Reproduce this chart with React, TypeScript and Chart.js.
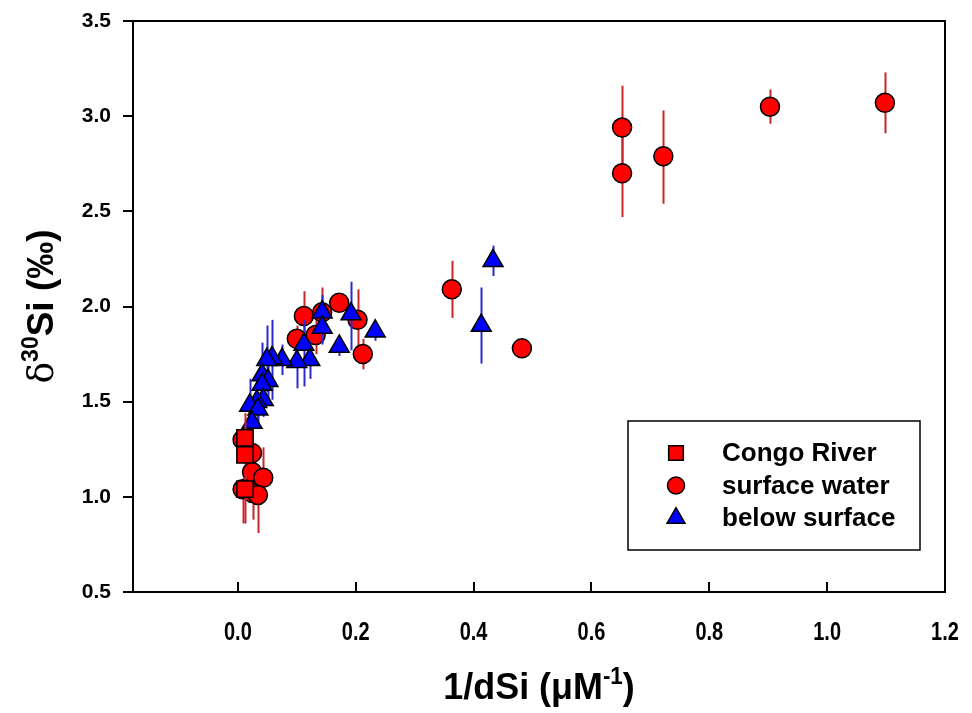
import React, { useEffect, useRef } from "react";
import { Chart, registerables } from "chart.js";

Chart.register(...registerables);

// ---------- data ----------
const seriesLabels = ["Congo River", "surface water", "below surface"];

const congoX = [0.012, 0.012, 0.012];
const congoY = [1.31, 1.22, 1.04];
const congoLo = [1.27, 1.17, 0.86];
const congoHi = [1.44, 1.27, 1.12];

const surfX = [1.098, 0.903, 0.722, 0.652, 0.652, 0.363, 0.482, 0.172, 0.203, 0.212, 0.112, 0.143, 0.1, 0.132, 0.008, 0.024, 0.024, 0.043, 0.008, 0.025, 0.034];
const surfY = [3.07, 3.05, 2.79, 2.94, 2.7, 2.09, 1.78, 2.02, 1.93, 1.75, 1.95, 1.97, 1.83, 1.85, 1.3, 1.23, 1.13, 1.1, 1.04, 1.02, 1.01];
const surfLo = [2.91, 2.96, 2.54, 2.7, 2.47, 1.94, 1.76, 1.98, 1.77, 1.67, 1.82, 1.88, 1.76, 1.75, 1.26, 1.15, 1.05, 1.02, 0.86, 0.88, 0.81];
const surfHi = [3.23, 3.14, 3.03, 3.16, 2.94, 2.24, 1.8, 2.06, 2.09, 1.83, 2.08, 2.1, 1.9, 1.98, 1.34, 1.31, 1.21, 1.26, 1.1, 1.1, 1.1];

const belowX = [0.433, 0.413, 0.233, 0.192, 0.172, 0.143, 0.143, 0.112, 0.122, 0.1, 0.075, 0.058, 0.049, 0.041, 0.051, 0.041, 0.043, 0.032, 0.02, 0.034, 0.024];
const belowY = [2.24, 1.9, 1.87, 1.96, 1.79, 1.97, 1.89, 1.8, 1.72, 1.71, 1.72, 1.73, 1.72, 1.64, 1.61, 1.59, 1.51, 1.5, 1.48, 1.46, 1.39];
const belowLo = [2.16, 1.7, 1.82, 1.77, 1.74, 1.88, 1.8, 1.58, 1.62, 1.57, 1.64, 1.51, 1.55, 1.48, 1.5, 1.45, 1.42, 1.4, 1.34, 1.37, 1.32];
const belowHi = [2.32, 2.1, 1.92, 2.13, 1.84, 2.06, 1.98, 1.93, 1.82, 1.8, 1.8, 1.93, 1.9, 1.81, 1.72, 1.73, 1.6, 1.62, 1.62, 1.55, 1.46];

const xTickValues = [0.0, 0.2, 0.4, 0.6, 0.8, 1.0, 1.2];
const yTickValues = [0.5, 1.0, 1.5, 2.0, 2.5, 3.0, 3.5];
const xMin = -0.178;
const xMax = 1.2;

const xTitle = { main: "1/dSi (\u03bcM", sup: "-1", tail: ")" };
const yTitle = { pre: "\u03b4", sup: "30", main: "Si (\u2030)" };

// ---------- helpers ----------
const toPoints = (xs: number[], ys: number[]) => xs.map((x, i) => ({ x, y: ys[i] }));

const SANS = "'Liberation Sans', Arial, Helvetica, sans-serif";

function drawMarker(ctx: CanvasRenderingContext2D, style: string, r: number, x: number, y: number) {
  ctx.beginPath();
  if (style === "rect") {
    const s = Math.SQRT1_2 * r;
    ctx.rect(x - s, y - s, 2 * s, 2 * s);
  } else if (style === "triangle") {
    let rad = 0;
    ctx.moveTo(x + Math.sin(rad) * r, y - Math.cos(rad) * r);
    rad += (2 * Math.PI) / 3;
    ctx.lineTo(x + Math.sin(rad) * r, y - Math.cos(rad) * r);
    rad += (2 * Math.PI) / 3;
    ctx.lineTo(x + Math.sin(rad) * r, y - Math.cos(rad) * r);
    ctx.closePath();
  } else {
    ctx.arc(x, y, r, 0, Math.PI * 2);
  }
  ctx.fill();
  ctx.stroke();
}

const errorBarPlugin = {
  id: "errorBars",
  beforeDatasetDraw(chart: any, args: any) {
    const ds = chart.data.datasets[args.index];
    if (!ds.errLo) return;
    const xs = chart.scales.x;
    const ys = chart.scales.y;
    const ctx = chart.ctx;
    ctx.save();
    ctx.strokeStyle = ds.errColor;
    ctx.lineWidth = 2;
    ds.data.forEach((p: any, i: number) => {
      const px = Math.round(xs.getPixelForValue(p.x)) + 0.5;
      ctx.beginPath();
      ctx.moveTo(px, ys.getPixelForValue(ds.errLo[i]));
      ctx.lineTo(px, ys.getPixelForValue(ds.errHi[i]));
      ctx.stroke();
    });
    ctx.restore();
  },
};

const framePlugin = {
  id: "frameAndText",
  afterDraw(chart: any) {
    const ctx = chart.ctx;
    const a = chart.chartArea;
    const xs = chart.scales.x;
    ctx.save();
    // frame
    ctx.strokeStyle = "#000";
    ctx.lineWidth = 2;
    ctx.strokeRect(a.left, a.top, a.right - a.left, a.bottom - a.top);
    // inward x ticks
    ctx.beginPath();
    xTickValues.forEach((v) => {
      const px = Math.round(xs.getPixelForValue(v));
      ctx.moveTo(px, a.bottom);
      ctx.lineTo(px, a.bottom - 10);
    });
    ctx.stroke();

    // x tick labels (condensed bold)
    ctx.fillStyle = "#000";
    ctx.textAlign = "center";
    ctx.textBaseline = "middle";
    ctx.font = `bold 25px ${SANS}`;
    xTickValues.forEach((v) => {
      const px = xs.getPixelForValue(v);
      ctx.save();
      ctx.translate(px, a.bottom + 41);
      ctx.scale(0.8, 1);
      ctx.fillText(v.toFixed(1), 0, 0);
      ctx.restore();
    });

    // x title
    ctx.textBaseline = "alphabetic";
    ctx.textAlign = "left";
    const mainFont = `bold 37px ${SANS}`;
    const supFont = `bold 23px ${SANS}`;
    const sx = 0.97;
    ctx.font = mainFont;
    const w1 = ctx.measureText(xTitle.main).width;
    const w3 = ctx.measureText(xTitle.tail).width;
    ctx.font = supFont;
    const w2 = ctx.measureText(xTitle.sup).width;
    const total = (w1 + w2 + w3) * sx;
    const cx = (a.left + a.right) / 2;
    ctx.save();
    ctx.translate(cx - total / 2, 699);
    ctx.scale(sx, 1);
    ctx.font = mainFont;
    ctx.fillText(xTitle.main, 0, 0);
    ctx.font = supFont;
    ctx.fillText(xTitle.sup, w1, -15);
    ctx.font = mainFont;
    ctx.fillText(xTitle.tail, w1 + w2, 0);
    ctx.restore();

    // y title (rotated)
    ctx.save();
    ctx.translate(40, (a.top + a.bottom) / 2);
    ctx.rotate(-Math.PI / 2);
    const yMain = `bold 37px ${SANS}`;
    const ySup = `bold 23px ${SANS}`;
    const yPre = `36px 'DejaVu Serif', serif`;
    ctx.font = yPre;
    const v1 = ctx.measureText(yTitle.pre).width;
    ctx.font = ySup;
    const v2 = ctx.measureText(yTitle.sup).width;
    ctx.font = yMain;
    const v3 = ctx.measureText(yTitle.main).width;
    const s = -(v1 + v2 + v3) / 2;
    const base = 13;
    ctx.font = yPre;
    ctx.fillText(yTitle.pre, s, base);
    ctx.font = ySup;
    ctx.fillText(yTitle.sup, s + v1, base - 15);
    ctx.font = yMain;
    ctx.fillText(yTitle.main, s + v1 + v2, base);
    ctx.restore();

    // legend
    const lx = a.right - 317;
    const ly = a.bottom - 171;
    const lw = 292;
    const lh = 129;
    ctx.fillStyle = "#fff";
    ctx.fillRect(lx, ly, lw, lh);
    ctx.strokeStyle = "#000";
    ctx.lineWidth = 1.5;
    ctx.strokeRect(lx, ly, lw, lh);
    chart.data.datasets.forEach((ds: any, i: number) => {
      const my = ly + 32 + i * 32.5;
      const mx = lx + 48;
      ctx.save();
      ctx.fillStyle = ds.backgroundColor;
      ctx.strokeStyle = ds.borderColor;
      ctx.lineWidth = ds.borderWidth;
      drawMarker(ctx, ds.pointStyle, ds.pointRadius * 0.9, mx, my);
      ctx.restore();
      ctx.fillStyle = "#000";
      ctx.font = `bold 26px ${SANS}`;
      ctx.textAlign = "left";
      ctx.textBaseline = "middle";
      ctx.fillText(ds.label, lx + 94, my + 1);
    });
    ctx.restore();
  },
};

export default function App() {
  const ref = useRef<HTMLCanvasElement | null>(null);

  useEffect(() => {
    document.body.style.margin = "0";
    if (!ref.current) return;
    const chart = new Chart(ref.current, {
      type: "scatter",
      data: {
        datasets: [
          {
            label: seriesLabels[0],
            data: toPoints(congoX, congoY),
            pointStyle: "rect",
            pointRadius: 11.5,
            backgroundColor: "#ff0000",
            borderColor: "#000",
            borderWidth: 1.5,
            order: 0,
            errLo: congoLo,
            errHi: congoHi,
            errColor: "#c8262b",
          } as any,
          {
            label: seriesLabels[1],
            data: toPoints(surfX, surfY),
            pointStyle: "circle",
            pointRadius: 9.5,
            backgroundColor: "#ff0000",
            borderColor: "#000",
            borderWidth: 1.5,
            order: 2,
            errLo: surfLo,
            errHi: surfHi,
            errColor: "#c8262b",
          } as any,
          {
            label: seriesLabels[2],
            data: toPoints(belowX, belowY),
            pointStyle: "triangle",
            pointRadius: 11.5,
            backgroundColor: "#0000ff",
            borderColor: "#000",
            borderWidth: 1.5,
            order: 1,
            errLo: belowLo,
            errHi: belowHi,
            errColor: "#2a2ad0",
          } as any,
        ],
      },
      options: {
        animation: false,
        responsive: false,
        devicePixelRatio: 1,
        layout: { padding: { top: 21, right: 27, left: 0, bottom: 0 } },
        plugins: {
          legend: { display: false },
          tooltip: { enabled: false },
        },
        scales: {
          x: {
            type: "linear",
            min: xMin,
            max: xMax,
            afterBuildTicks: (scale: any) => {
              scale.ticks = xTickValues.map((v) => ({ value: v }));
            },
            afterFit: (scale: any) => {
              scale.height = 121;
              scale.paddingLeft = 0;
              scale.paddingRight = 0;
            },
            ticks: { display: false },
            grid: { display: false, drawTicks: false },
            border: { display: false },
          },
          y: {
            type: "linear",
            min: 0.5,
            max: 3.5,
            afterBuildTicks: (scale: any) => {
              scale.ticks = yTickValues.map((v) => ({ value: v }));
            },
            afterFit: (scale: any) => {
              scale.width = 133;
              scale.paddingTop = 0;
              scale.paddingBottom = 0;
            },
            ticks: {
              callback: (v: any) => Number(v).toFixed(1),
              color: "#000",
              font: { family: SANS, size: 21, weight: "bold" },
              padding: 12,
            },
            grid: {
              display: true,
              drawOnChartArea: false,
              drawTicks: true,
              tickLength: 10,
              color: "#000",
              lineWidth: 2,
            },
            border: { display: false },
          },
        },
      } as any,
      plugins: [errorBarPlugin, framePlugin],
    });
    return () => chart.destroy();
  }, []);

  return (
    <div style={{ position: "absolute", left: 0, top: 0, width: 972, height: 713, background: "#fff" }}>
      <canvas ref={ref} width={972} height={713} style={{ display: "block" }} />
    </div>
  );
}
